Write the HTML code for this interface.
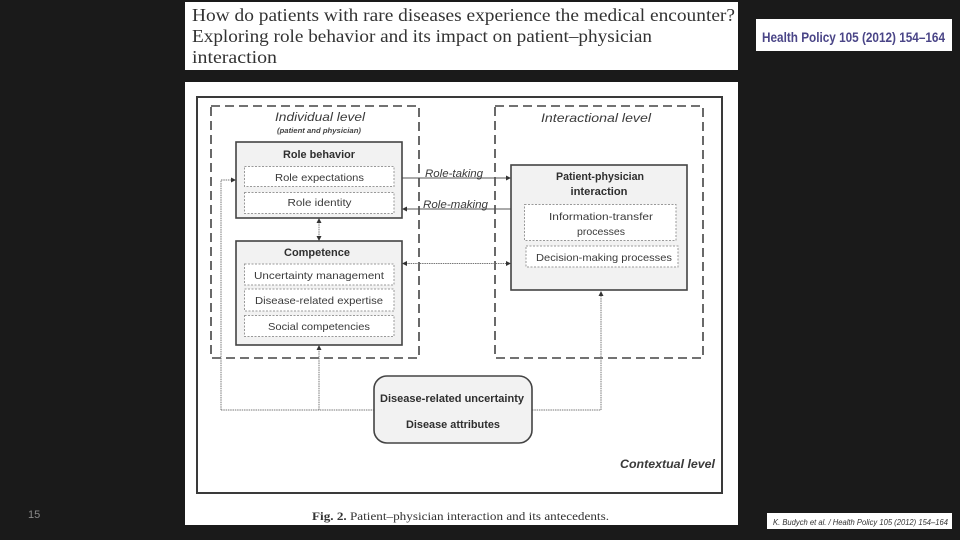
<!DOCTYPE html>
<html><head><meta charset="utf-8"><style>
html,body{margin:0;padding:0;background:#1a1a1a;width:960px;height:540px;overflow:hidden}
svg{display:block;filter:blur(.35px)}
text{font-family:"Liberation Sans",sans-serif;fill:#2f2f2f}
.s{font-family:"Liberation Serif",serif}
.t{font-size:17.5px;fill:#333}
.b{font-weight:bold;font-size:11px;text-anchor:middle}
.n{font-size:10.500px;text-anchor:middle;fill:#3a3a3a}
.i{font-style:italic;fill:#3a3a3a}
.d{fill:#fff;stroke:#999;stroke-width:1;stroke-dasharray:2 1.5}
.m{fill:#f2f2f2;stroke:#444;stroke-width:1.6}
.g{fill:none;stroke:#444;stroke-width:1.6;stroke-dasharray:9 5}
.l{fill:none;stroke:#777;stroke-width:1;stroke-dasharray:1.5 .8}
.k{fill:none;stroke:#555;stroke-width:1}
.a{fill:#333}
</style></head><body>
<svg width="960" height="540" viewBox="0 0 960 540" xmlns="http://www.w3.org/2000/svg">
<rect width="960" height="540" fill="#1a1a1a"/>
<rect x="185" y="2" width="553" height="68" fill="#fff"/>
<text class="s t" x="192" y="21" textLength="543" lengthAdjust="spacingAndGlyphs">How do patients with rare diseases experience the medical encounter?</text>
<text class="s t" x="192" y="42" textLength="460" lengthAdjust="spacingAndGlyphs">Exploring role behavior and its impact on patient–physician</text>
<text class="s t" x="192" y="63" textLength="85" lengthAdjust="spacingAndGlyphs">interaction</text>

<rect x="756" y="19" width="196" height="32" fill="#fff"/>
<text x="762" y="42" font-size="14" font-weight="bold" style="fill:#4a4587" textLength="183" lengthAdjust="spacingAndGlyphs">Health Policy 105 (2012) 154–164</text>

<rect x="185" y="82" width="553" height="443" fill="#fff"/>
<rect x="197" y="97" width="525" height="396" fill="#fff" stroke="#3a3a3a" stroke-width="2"/>
<rect class="g" x="211" y="106" width="208" height="252"/>
<rect class="g" x="495" y="106" width="208" height="252"/>

<text class="i" x="275" y="121" font-size="12" textLength="90" lengthAdjust="spacingAndGlyphs">Individual level</text>
<text x="277" y="133" font-size="7" font-style="italic" font-weight="bold" style="fill:#444" textLength="84" lengthAdjust="spacingAndGlyphs">(patient and physician)</text>
<text class="i" x="541" y="122" font-size="12" textLength="110" lengthAdjust="spacingAndGlyphs">Interactional level</text>

<!-- connectors -->
<path class="l" d="M221 410V180H232"/>
<path class="l" d="M221 410H374M532 410H601V294"/>
<path class="l" d="M319 410V349"/>
<path class="l" d="M319 222V237"/>
<path class="l" d="M406 263.500H507"/>
<path class="k" d="M402 178H507"/>
<path class="k" d="M406 209H511"/>
<path class="a" d="M236 180l-5-2.500v5zM511 178l-5-2.500v5zM402 209l5-2.500v5zM402 263.500l5-2.500v5zM511 263.500l-5-2.500v5zM319 218l-2.500 5h5zM319 241l-2.500-5h5zM319 345l-2.500 5h5zM601 291l-2.500 5h5z"/>

<text class="i" x="425" y="177" font-size="11" textLength="58" lengthAdjust="spacingAndGlyphs">Role-taking</text>
<text class="i" x="423" y="208" font-size="11" textLength="65" lengthAdjust="spacingAndGlyphs">Role-making</text>

<!-- Role behavior -->
<rect class="m" x="236" y="142" width="166" height="76"/>
<text class="b" x="319" y="158" textLength="72" lengthAdjust="spacingAndGlyphs">Role behavior</text>
<rect class="d" x="244.500" y="166.500" width="149.500" height="20"/>
<rect class="d" x="244.500" y="192.500" width="149.500" height="21"/>
<text class="n" x="319.500" y="181" textLength="89" lengthAdjust="spacingAndGlyphs">Role expectations</text>
<text class="n" x="319.500" y="206" textLength="64" lengthAdjust="spacingAndGlyphs">Role identity</text>

<!-- Competence -->
<rect class="m" x="236" y="241" width="166" height="104"/>
<text class="b" x="317" y="256" textLength="66" lengthAdjust="spacingAndGlyphs">Competence</text>
<rect class="d" x="244.500" y="264" width="149.500" height="21"/>
<rect class="d" x="244.500" y="289" width="149.500" height="22"/>
<rect class="d" x="244.500" y="315.500" width="149.500" height="21"/>
<text class="n" x="319" y="279" textLength="130" lengthAdjust="spacingAndGlyphs">Uncertainty management</text>
<text class="n" x="319" y="304" textLength="128" lengthAdjust="spacingAndGlyphs">Disease-related expertise</text>
<text class="n" x="319" y="330" textLength="102" lengthAdjust="spacingAndGlyphs">Social competencies</text>

<!-- Patient-physician -->
<rect class="m" x="511" y="165" width="176" height="125"/>
<text class="b" x="600" y="180" textLength="88" lengthAdjust="spacingAndGlyphs">Patient-physician</text>
<text class="b" x="599" y="195" textLength="57" lengthAdjust="spacingAndGlyphs">interaction</text>
<rect class="d" x="524.500" y="204.500" width="151.500" height="36"/>
<rect class="d" x="526" y="246" width="152" height="21"/>
<text class="n" x="601" y="220" textLength="104" lengthAdjust="spacingAndGlyphs">Information-transfer</text>
<text class="n" x="601" y="235" textLength="48" lengthAdjust="spacingAndGlyphs">processes</text>
<text class="n" x="604" y="261" textLength="136" lengthAdjust="spacingAndGlyphs">Decision-making processes</text>

<!-- Disease -->
<rect x="374" y="376" width="158" height="67" rx="13" fill="#f2f2f2" stroke="#444" stroke-width="1.600"/>
<text class="b" x="452" y="402" textLength="144" lengthAdjust="spacingAndGlyphs">Disease-related uncertainty</text>
<text class="b" x="453" y="428" textLength="94" lengthAdjust="spacingAndGlyphs">Disease attributes</text>

<text x="620" y="468" font-size="12" font-style="italic" font-weight="bold" style="fill:#3a3a3a" textLength="95" lengthAdjust="spacingAndGlyphs">Contextual level</text>

<text class="s" x="312" y="520" font-size="12" style="fill:#333" textLength="297" lengthAdjust="spacingAndGlyphs"><tspan font-weight="bold">Fig. 2.</tspan>  Patient–physician interaction and its antecedents.</text>

<rect x="767" y="513" width="185" height="16" fill="#fff"/>
<text x="773" y="525" font-size="8" font-style="italic" style="fill:#333" textLength="175" lengthAdjust="spacingAndGlyphs">K. Budych et al. / Health Policy 105 (2012) 154–164</text>

<text x="28" y="518" font-size="11" style="fill:#8a8a8a">15</text>
</svg>
</body></html>
